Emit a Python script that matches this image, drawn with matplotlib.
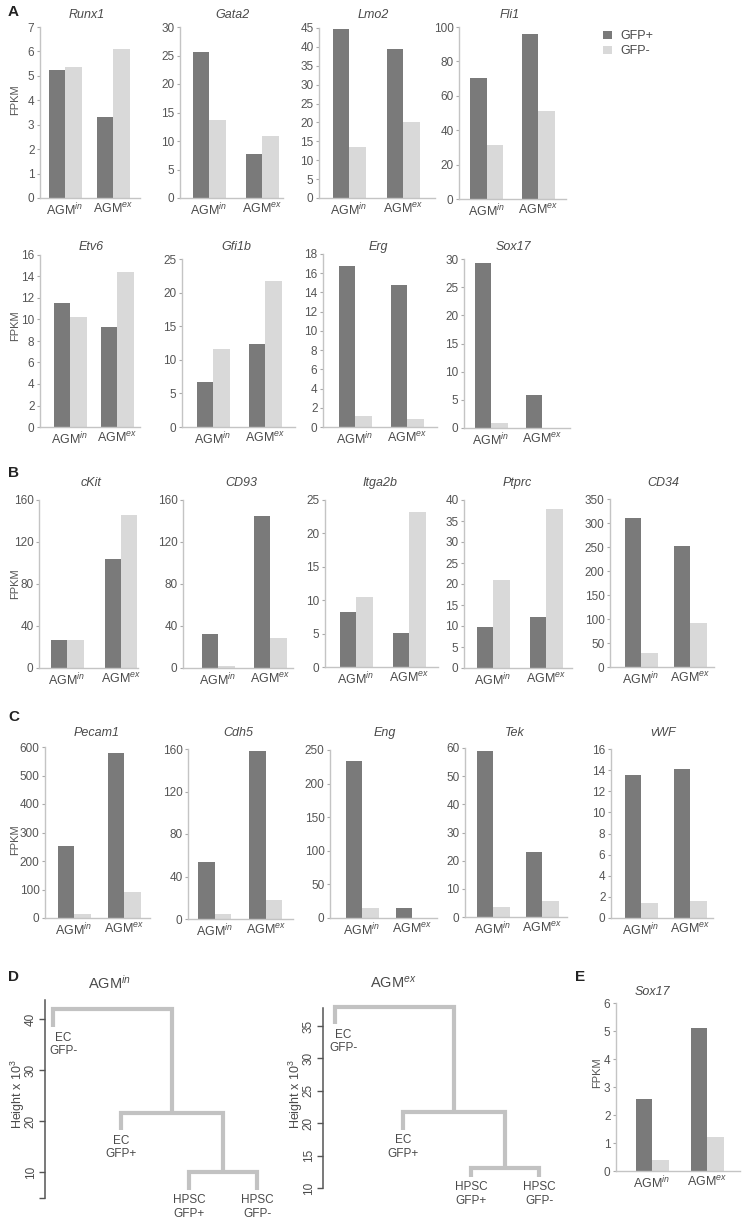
import matplotlib
matplotlib.use('Agg')
import matplotlib.pyplot as plt
from matplotlib.patches import Patch

plt.rcParams['font.family'] = ['Liberation Sans', 'DejaVu Sans']
plt.rcParams['mathtext.fontset'] = 'custom'
plt.rcParams['mathtext.rm'] = 'Liberation Sans'
plt.rcParams['mathtext.it'] = 'Liberation Sans:italic'

# ---------------- data ----------------
genes = ['Runx1', 'Gata2', 'Lmo2', 'Fli1',
         'Etv6', 'Gfi1b', 'Erg', 'Sox17',
         'cKit', 'CD93', 'Itga2b', 'Ptprc', 'CD34',
         'Pecam1', 'Cdh5', 'Eng', 'Tek', 'vWF']
groups = ['AGM$^{\\mathit{in}}$', 'AGM$^{\\mathit{ex}}$']
gfp_plus = [[5.24, 3.32], [25.6, 7.7], [44.8, 39.4], [70.3, 95.9],
            [11.5, 9.3], [6.7, 12.4], [16.8, 14.8], [29.3, 5.9],
            [26.7, 104], [32.4, 145], [8.2, 5.1], [9.8, 12.1], [310, 252],
            [253, 579], [53.6, 158], [233, 15], [59, 23.1], [13.5, 14.1]]
gfp_minus = [[5.37, 6.1], [13.7, 10.9], [13.5, 20.1], [31.4, 51.2],
             [10.2, 14.4], [11.6, 21.7], [1.1, 0.85], [0.8, 0.05],
             [26.7, 146], [2.0, 28.6], [10.5, 23.2], [21.0, 37.8], [29, 92],
             [14, 91], [4.7, 17.9], [15, 0.5], [3.6, 5.7], [1.4, 1.6]]
ymax = [7, 30, 45, 100, 16, 25, 18, 30, 160, 160, 25, 40, 350,
        600, 160, 250, 60, 16]
ystep = [1, 5, 5, 20, 2, 5, 2, 5, 40, 40, 5, 5, 50, 100, 40, 50, 10, 2]

e_gene = 'Sox17'
e_plus = [2.57, 5.1]
e_minus = [0.39, 1.21]
e_ymax, e_ystep = 6, 1

legend_labels = ['GFP+', 'GFP-']

dendro_leaves = ['EC\nGFP-', 'EC\nGFP+', 'HPSC\nGFP+', 'HPSC\nGFP-']
dendro_in_merges = [10.0, 21.6, 42.0]
dendro_in_leaf_ends = [38.4, 18.2, 6.5, 6.5]
dendro_in_ticks = [10, 20, 30, 40]
dendro_ex_merges = [13.1, 21.7, 37.9]
dendro_ex_leaf_ends = [35.3, 19.0, 11.7, 11.7]
dendro_ex_ticks = [10, 15, 20, 25, 30, 35]

# ---------------- style ----------------
DARK = '#7a7a7a'
LIGHT = '#d9d9d9'
SPINE = '#c4c4c4'
TXT = '#4a4a4a'
TICKTXT = '#555555'

W, H = 742, 1225
fig = plt.figure(figsize=(W / 100, H / 100), dpi=100)


def px_axes(l, r, t, b):
    return fig.add_axes([l / W, 1 - b / H, (r - l) / W, (b - t) / H])


# layout (pixel): spine_x, right_x, center1, center2, top_y, zero_y, title_y
layout = [
    (40, 140, 65, 113, 27, 198, 15), (180, 283, 209, 262, 27, 198, 15),
    (319, 435, 349, 403, 28, 198, 15), (459, 566, 487, 538, 27, 199, 15),
    (40, 140, 70, 117, 255, 427, 247), (182, 295, 213, 265, 259, 427, 247),
    (323, 437, 355, 407, 254, 427, 247), (464, 570, 491, 542, 259, 428, 247),
    (39, 138, 67, 121, 500, 668, 483), (183, 293, 218, 270, 500, 668, 483),
    (325, 438, 356, 409, 500, 667, 483), (464, 572, 493, 546, 500, 668, 483),
    (610, 714, 641, 690, 499, 667, 483),
    (45, 150, 74, 124, 747, 918, 733), (188, 293, 215, 266, 749, 919, 733),
    (330, 437, 362, 412, 750, 918, 733), (465, 567, 493, 542, 748, 917, 733),
    (611, 713, 641, 690, 749, 918, 733),
]


def bar_chart(lay, gene, plus, minus, top, step, title_dx=0.45):
    l, r, c1, c2, t, b, ty = lay
    ax = px_axes(l, r, t, b)
    s = c2 - c1
    w = 16.5 / s
    xs = [0, 1]
    ax.bar([x - w / 2 for x in xs], plus, width=w, color=DARK, linewidth=0)
    ax.bar([x + w / 2 for x in xs], minus, width=w, color=LIGHT, linewidth=0)
    ax.set_xlim((l - c1) / s, (r - c1) / s)
    ax.set_ylim(0, top)
    ticks = list(range(0, top + 1, step))
    ax.set_yticks(ticks)
    ax.set_xticks(xs)
    ax.set_xticklabels(groups)
    for sp in ['top', 'right']:
        ax.spines[sp].set_visible(False)
    for sp in ['left', 'bottom']:
        ax.spines[sp].set_color(SPINE)
        ax.spines[sp].set_linewidth(1.0)
    ax.tick_params(axis='y', length=2.5, width=0.8, color='#aaaaaa',
                   labelcolor=TICKTXT, labelsize=8.5, pad=1.5)
    ax.tick_params(axis='x', length=0, labelcolor=TXT, labelsize=9, pad=2.5)
    ax.patch.set_alpha(0)
    tx = l + (title_dx * s + (c1 - l))
    fig.text(tx / W, 1 - ty / H, gene, ha='center', va='center',
             style='italic', fontsize=9, color=TXT)
    return ax


for i, g in enumerate(genes):
    bar_chart(layout[i], g, gfp_plus[i], gfp_minus[i], ymax[i], ystep[i])

# panel E
bar_chart((616, 740, 652, 707, 1003, 1171, 992), e_gene, e_plus, e_minus,
          e_ymax, e_ystep, title_dx=0.0)

# FPKM labels
for (x, y) in [(15, 100), (15, 326), (15, 584), (15, 840), (597, 1073)]:
    fig.text(x / W, 1 - y / H, 'FPKM', rotation=90, ha='center', va='center',
             fontsize=8, color=TICKTXT)

# legend
handles = [Patch(facecolor=DARK, edgecolor='none'),
           Patch(facecolor=LIGHT, edgecolor='none')]
fig.legend(handles, legend_labels, loc='upper left',
           bbox_to_anchor=(592 / W, 1 - 19 / H), frameon=False,
           handlelength=0.7, handleheight=0.7, handletextpad=0.7,
           labelspacing=0.25, fontsize=9, labelcolor=TXT)

# panel letters
for (x, y, s) in [(8, 12, 'A'), (8, 473, 'B'), (8, 717, 'C'),
                  (8, 977, 'D'), (575, 977, 'E')]:
    fig.text(x / W, 1 - y / H, s, fontsize=11, fontweight='bold',
             ha='left', va='center', color='#222222')


# ---------------- dendrograms ----------------
def dendrogram(spine_x, right_x, leaf1_x, spacing, t, b, h0, y0, k,
               merges, leaf_ends, ticks, extra_ticks, spine_bounds,
               title, title_xy, ylab_x, first_dx):
    ax = px_axes(spine_x, right_x, t, b)
    ax.set_xlim(1 + (spine_x - leaf1_x) / spacing,
                1 + (right_x - leaf1_x) / spacing)
    ax.set_ylim(h0 - (b - y0) / k, h0 + (y0 - t) / k)
    lc = '#c2c2c2'
    lw = 3.0
    m1, m2, m3 = merges
    e1, e2, e3, e4 = leaf_ends
    c34 = 3.5
    c234 = (2 + c34) / 2
    ax.plot([3, 3, 4, 4], [e3, m1, m1, e4], color=lc, lw=lw,
            solid_joinstyle='miter', solid_capstyle='butt')
    ax.plot([2, 2, c34, c34], [e2, m2, m2, m1], color=lc, lw=lw,
            solid_joinstyle='miter', solid_capstyle='butt')
    ax.plot([1, 1, c234, c234], [e1, m3, m3, m2], color=lc, lw=lw,
            solid_joinstyle='miter', solid_capstyle='butt')
    for i, (lab, e) in enumerate(zip(dendro_leaves, leaf_ends)):
        x = i + 1 + (first_dx if i == 0 else 0)
        ax.text(x, e - 4.5 / k, lab, ha='center', va='top',
                fontsize=8.5, color=TXT, linespacing=1.15, clip_on=False)
    for sp in ['top', 'right', 'bottom']:
        ax.spines[sp].set_visible(False)
    ax.spines['left'].set_color('#555555')
    ax.spines['left'].set_linewidth(1.1)
    ax.spines['left'].set_bounds(*spine_bounds)
    ax.set_xticks([])
    ax.set_yticks(ticks + extra_ticks)
    ax.set_yticklabels([str(v) for v in ticks] + [''] * len(extra_ticks))
    ax.tick_params(axis='y', length=4, width=1.0, color='#555555',
                   labelcolor=TXT, labelsize=8.5, pad=2)
    for lab in ax.get_yticklabels():
        lab.set_rotation(90)
        lab.set_va('center')
        lab.set_ha('right')
    ax.patch.set_alpha(0)
    fig.text(title_xy[0] / W, 1 - title_xy[1] / H, title, ha='center',
             va='center', fontsize=10.5, color=TXT)
    fig.text(ylab_x / W, 1 - 1094 / H, 'Height x 10$^{3}$', rotation=90,
             ha='center', va='center', fontsize=9, color=TXT)
    return ax


dendrogram(45, 290, 53, 68, 985, 1205, 40, 1019, 5.1,
           dendro_in_merges, dendro_in_leaf_ends, dendro_in_ticks, [5],
           (5.0, 43.7), 'AGM$^{\\mathit{in}}$', (109, 983), 18, 0.15)
dendrogram(323, 570, 335, 68, 985, 1205, 35, 1026, 6.48,
           dendro_ex_merges, dendro_ex_leaf_ends, dendro_ex_ticks, [],
           (10.0, 37.8), 'AGM$^{\\mathit{ex}}$', (393, 983), 296, 0.12)

fig.savefig('out.png', dpi=100)
